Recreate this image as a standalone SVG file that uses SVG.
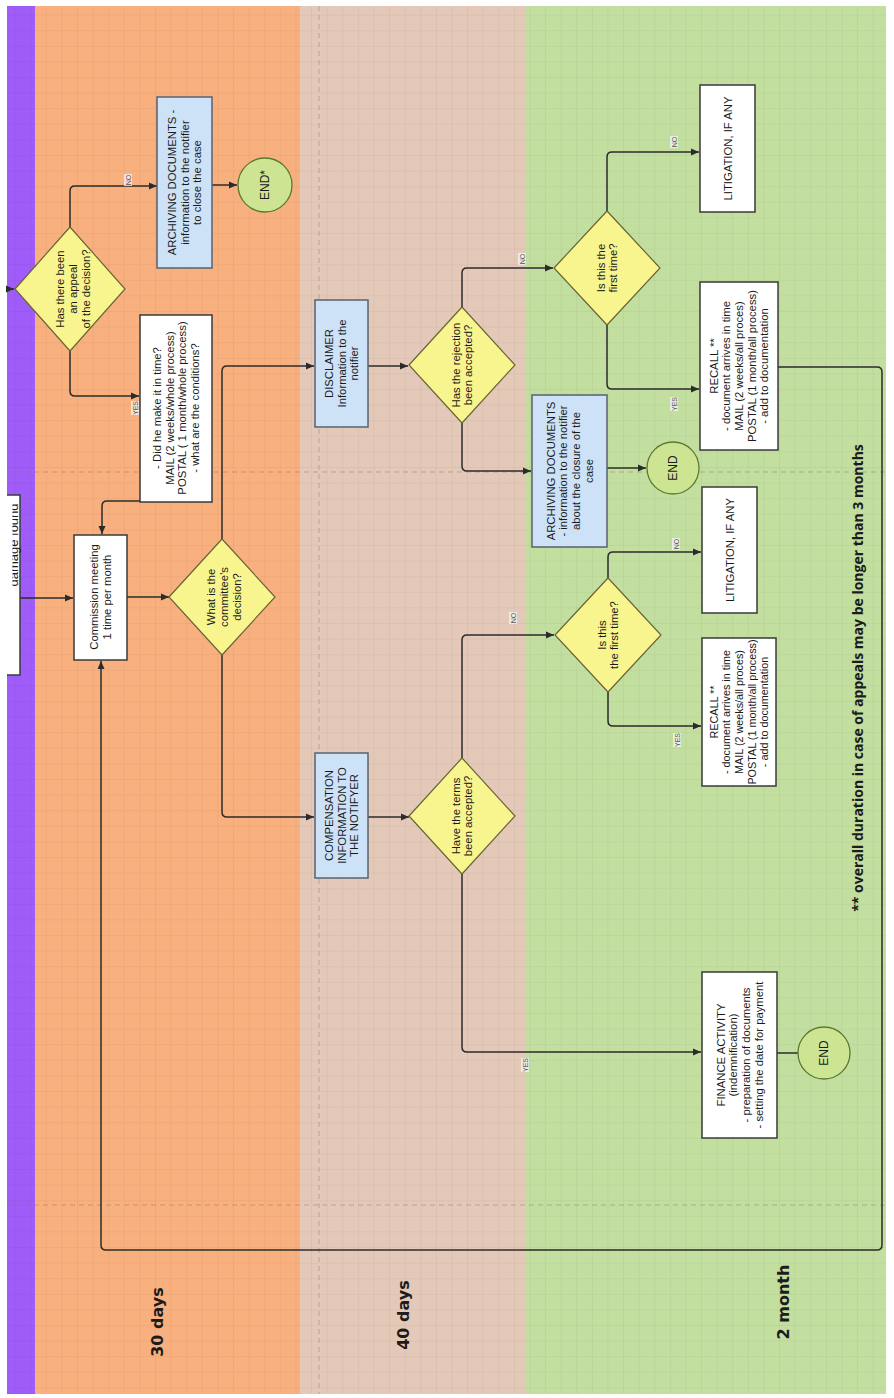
<svg xmlns="http://www.w3.org/2000/svg" width="894" height="1398" viewBox="0 0 894 1398">
<style>
.box{fill:#ffffff;stroke:#3a3a3a;stroke-width:1.5}
.blue{fill:#cde1f7;stroke:#586270;stroke-width:1.5}
.dia{fill:#f8f58e;stroke:#6a6436;stroke-width:1.2}
.end{fill:#cde492;stroke:#5a7a30;stroke-width:1.3}
.t{font-family:"Liberation Sans",Arial,sans-serif;font-size:11.3px;fill:#1a1a1a;text-anchor:middle}
.lbl{font-family:"Liberation Sans",Arial,sans-serif;font-size:7px;fill:#555;text-anchor:middle}
.lbg{fill:#f4f4f4;opacity:0.75}
.conn{fill:none;stroke:#2b2b2b;stroke-width:1.5}
.arr{marker-end:url(#ah)}
.band{font-family:"DejaVu Sans",Verdana,sans-serif;font-weight:bold;font-size:16px;fill:#1c1c1c;text-anchor:middle}
.note{font-family:"Open Sans",sans-serif;font-weight:bold;font-size:14px;fill:#1c1c1c;text-anchor:middle}
.dash{stroke:#8a7a70;stroke-width:0.8;stroke-dasharray:5 4;opacity:0.6}
</style>
<defs>
<marker id="ah" markerWidth="8" markerHeight="8" refX="8" refY="4" orient="auto" markerUnits="userSpaceOnUse">
<path d="M0,0.5 L8,4 L0,7.5 z" fill="#2b2b2b"/>
</marker>
<pattern id="grid" width="15.6" height="15.6" patternUnits="userSpaceOnUse">
<path d="M15.6,0 V15.6 H0" fill="none" stroke="#000" stroke-opacity="0.08" stroke-width="1"/>
</pattern>
<clipPath id="clipL"><rect x="7" y="0" width="40" height="1398"/></clipPath>
<clipPath id="clipT"><rect x="12.5" y="0" width="40" height="1398"/></clipPath>
</defs>

<g id="background">
<rect x="0" y="0" width="894" height="1398" fill="#ffffff"/>
<rect x="7" y="6" width="28" height="1388" fill="#a05cf8"/>
<rect x="35" y="6" width="265" height="1388" fill="#f9b07f"/>
<rect x="300" y="6" width="225" height="1388" fill="#e4c9b9"/>
<rect x="525" y="6" width="361" height="1388" fill="#c3dfa0"/>
<rect x="7" y="6" width="879" height="1388" fill="url(#grid)"/>
<line class="dash" x1="7" y1="472" x2="886" y2="472"/>
<line class="dash" x1="7" y1="1205" x2="886" y2="1205"/>
<line class="dash" x1="319" y1="6" x2="319" y2="1394"/>
<text class="band" transform="translate(163,1322) rotate(-90)">30 days</text>
<text class="band" transform="translate(409,1315) rotate(-90)">40 days</text>
<text class="band" transform="translate(789,1302) rotate(-90)">2 month</text>
<text class="note" transform="translate(863,678) rotate(-90)">** overall duration in case of appeals may be longer than 3 months</text>
</g>

<g id="connectors">
<path class="conn arr" d="M20,598 H73"/>
<path class="conn arr" d="M6,289 H14"/>
<path class="conn arr" d="M70,227 V191 Q70,186 75,186 H157"/>
<path class="conn arr" d="M212,185 H237"/>
<path class="conn arr" d="M70,351 V391 Q70,396 75,396 H139"/>
<path class="conn arr" d="M140,501 H107 Q102,501 102,506 V534"/>
<path class="conn arr" d="M127,597 H169"/>
<path class="conn arr" d="M222,539 V371 Q222,366 227,366 H314"/>
<path class="conn arr" d="M222,655 V812 Q222,817 227,817 H314"/>
<path class="conn arr" d="M368,366 H408"/>
<path class="conn arr" d="M462,307 V273 Q462,268 467,268 H553"/>
<path class="conn arr" d="M607,211 V157 Q607,152 612,152 H699"/>
<path class="conn arr" d="M607,325 V384 Q607,389 612,389 H699"/>
<path class="conn arr" d="M462,423 V466 Q462,471 467,471 H531"/>
<path class="conn arr" d="M607,468 H646"/>
<path class="conn arr" d="M368,817 H409"/>
<path class="conn arr" d="M462,758 V640 Q462,635 467,635 H554"/>
<path class="conn arr" d="M608,578 V557 Q608,552 613,552 H701"/>
<path class="conn arr" d="M608,692 V721 Q608,726 613,726 H701"/>
<path class="conn arr" d="M462,874 V1047 Q462,1052 467,1052 H701"/>
<path class="conn" d="M777,1053 H798"/>
<path class="conn arr" d="M778,367 H877 Q882,367 882,372 V1245 Q882,1250 877,1250 H106 Q101,1250 101,1245 V661"/>
<g id="labels">
<rect class="lbg" x="124" y="174" width="8" height="12"/><text class="lbl" transform="translate(130.5,180) rotate(-90)">NO</text>
<rect class="lbg" x="131" y="401" width="8" height="14"/><text class="lbl" transform="translate(137.5,408) rotate(-90)">YES</text>
<rect class="lbg" x="518" y="253" width="8" height="12"/><text class="lbl" transform="translate(524.5,259) rotate(-90)">NO</text>
<rect class="lbg" x="670" y="136" width="8" height="12"/><text class="lbl" transform="translate(676.5,142) rotate(-90)">NO</text>
<rect class="lbg" x="670" y="397" width="8" height="14"/><text class="lbl" transform="translate(676.5,404) rotate(-90)">YES</text>
<rect class="lbg" x="509" y="612" width="8" height="12"/><text class="lbl" transform="translate(515.5,618) rotate(-90)">NO</text>
<rect class="lbg" x="672" y="538" width="8" height="12"/><text class="lbl" transform="translate(678.5,544) rotate(-90)">NO</text>
<rect class="lbg" x="673" y="733" width="8" height="14"/><text class="lbl" transform="translate(679.5,740) rotate(-90)">YES</text>
<rect class="lbg" x="521" y="1058" width="8" height="14"/><text class="lbl" transform="translate(527.5,1065) rotate(-90)">YES</text>
</g>
</g>

<g id="damage">
<g clip-path="url(#clipL)"><rect class="box" x="-10" y="495" width="30" height="180"/></g>
<g clip-path="url(#clipT)"><text class="t" style="font-size:13px" transform="translate(18,545) rotate(-90)">damage found</text></g>
</g>

<g id="appeal">
<polygon class="dia" points="15,289 70,227 125,289 70,351"/>
<text class="t" transform="translate(73,289) rotate(-90)"><tspan x="0" y="-8.7">Has there been</tspan><tspan x="0" y="4">an appeal</tspan><tspan x="0" y="16.7">of the decision?</tspan></text>
</g>

<g id="archive1">
<rect class="blue" x="157" y="97" width="55" height="171"/>
<text class="t" transform="translate(184.5,182.5) rotate(-90)"><tspan x="0" y="-8.7">ARCHIVING DOCUMENTS -</tspan><tspan x="0" y="4">information to the notifier</tspan><tspan x="0" y="16.7">to close the case</tspan></text>
</g>

<g id="end1">
<circle class="end" cx="265" cy="185" r="27"/>
<text class="t" style="font-size:12px" transform="translate(265,185) rotate(-90)"><tspan x="0" y="4">END*</tspan></text>
</g>

<g id="didhe">
<rect class="box" x="140" y="315" width="72" height="187"/>
<text class="t" transform="translate(176,408) rotate(-90)"><tspan x="0" y="-15">- Did he make it in time?</tspan><tspan x="0" y="-2.3">MAIL (2 weeks/whole process)</tspan><tspan x="0" y="10.3">POSTAL ( 1 month/whole process)</tspan><tspan x="0" y="23">- what are the conditions?</tspan></text>
</g>

<g id="commission">
<rect class="box" x="74" y="535" width="53" height="125"/>
<text class="t" transform="translate(100.5,597) rotate(-90)"><tspan x="0" y="-2.3">Commission meeting</tspan><tspan x="0" y="10.3">1 time per month</tspan></text>
</g>

<g id="committee">
<polygon class="dia" points="169,597 222,539 275,597 222,655"/>
<text class="t" transform="translate(224,597) rotate(-90)"><tspan x="0" y="-8.7">What is the</tspan><tspan x="0" y="4">committee's</tspan><tspan x="0" y="16.7">decision?</tspan></text>
</g>

<g id="disclaimer">
<rect class="blue" x="315" y="300" width="53" height="127"/>
<text class="t" transform="translate(341.5,363.5) rotate(-90)"><tspan x="0" y="-8.7">DISCLAIMER</tspan><tspan x="0" y="4">Information to the</tspan><tspan x="0" y="16.7">notifier</tspan></text>
</g>

<g id="rejection">
<polygon class="dia" points="409,365 462,307 515,365 462,423"/>
<text class="t" transform="translate(462,365) rotate(-90)"><tspan x="0" y="-2.3">Has the rejection</tspan><tspan x="0" y="10.3">been accepted?</tspan></text>
</g>

<g id="first1">
<polygon class="dia" points="554,268 607,211 660,268 607,325"/>
<text class="t" transform="translate(607,268) rotate(-90)"><tspan x="0" y="-2.3">Is this the</tspan><tspan x="0" y="10.3">first time?</tspan></text>
</g>

<g id="litigation1">
<rect class="box" x="700" y="85" width="55" height="127"/>
<text class="t" transform="translate(727.5,148.5) rotate(-90)"><tspan x="0" y="4">LITIGATION, IF ANY</tspan></text>
</g>

<g id="recall1">
<rect class="box" x="700" y="282" width="78" height="168"/>
<text class="t" transform="translate(739,366) rotate(-90)"><tspan x="0" y="-21.4">RECALL **</tspan><tspan x="0" y="-8.7">- document arrives in time</tspan><tspan x="0" y="4">MAIL (2 weeks/all proces)</tspan><tspan x="0" y="16.7">POSTAL (1 month/all process)</tspan><tspan x="0" y="29.4">- add to documentation</tspan></text>
</g>

<g id="archive2">
<rect class="blue" x="532" y="395" width="75" height="152"/>
<text class="t" transform="translate(569.5,471) rotate(-90)"><tspan x="0" y="-15">ARCHIVING DOCUMENTS</tspan><tspan x="0" y="-2.3">- information to the notifier</tspan><tspan x="0" y="10.3">about the closure of the</tspan><tspan x="0" y="23">case</tspan></text>
</g>

<g id="end2">
<circle class="end" cx="673" cy="468" r="26"/>
<text class="t" style="font-size:12px" transform="translate(673,468) rotate(-90)"><tspan x="0" y="4">END</tspan></text>
</g>

<g id="compensation">
<rect class="blue" x="315" y="753" width="53" height="125"/>
<text class="t" transform="translate(341.5,815.5) rotate(-90)"><tspan x="0" y="-8.7">COMPENSATION</tspan><tspan x="0" y="4">INFORMATION TO</tspan><tspan x="0" y="16.7">THE NOTIFYER</tspan></text>
</g>

<g id="terms">
<polygon class="dia" points="409,816 462,758 515,816 462,874"/>
<text class="t" transform="translate(462,816) rotate(-90)"><tspan x="0" y="-2.3">Have the terms</tspan><tspan x="0" y="10.3">been accepted?</tspan></text>
</g>

<g id="first2">
<polygon class="dia" points="555,635 608,578 661,635 608,692"/>
<text class="t" transform="translate(608,635) rotate(-90)"><tspan x="0" y="-2.3">Is this</tspan><tspan x="0" y="10.3">the first time?</tspan></text>
</g>

<g id="litigation2">
<rect class="box" x="702" y="487" width="55" height="126"/>
<text class="t" transform="translate(729.5,550) rotate(-90)"><tspan x="0" y="4">LITIGATION, IF ANY</tspan></text>
</g>

<g id="recall2">
<rect class="box" x="702" y="638" width="74" height="148"/>
<text class="t" style="font-size:10.8px" transform="translate(739,712) rotate(-90)"><tspan x="0" y="-21.4">RECALL **</tspan><tspan x="0" y="-8.7">- document arrives in time</tspan><tspan x="0" y="4">MAIL (2 weeks/all proces)</tspan><tspan x="0" y="16.7">POSTAL (1 month/all process)</tspan><tspan x="0" y="29.4">- add to documentation</tspan></text>
</g>

<g id="finance">
<rect class="box" x="702" y="972" width="75" height="166"/>
<text class="t" transform="translate(739.5,1055) rotate(-90)"><tspan x="0" y="-15">FINANCE ACTIVITY</tspan><tspan x="0" y="-2.3">(indemnification)</tspan><tspan x="0" y="10.3">- preparation of documents</tspan><tspan x="0" y="23">- setting the date for payment</tspan></text>
</g>

<g id="end3">
<circle class="end" cx="824" cy="1053" r="26"/>
<text class="t" style="font-size:12px" transform="translate(824,1053) rotate(-90)"><tspan x="0" y="4">END</tspan></text>
</g>
</svg>
